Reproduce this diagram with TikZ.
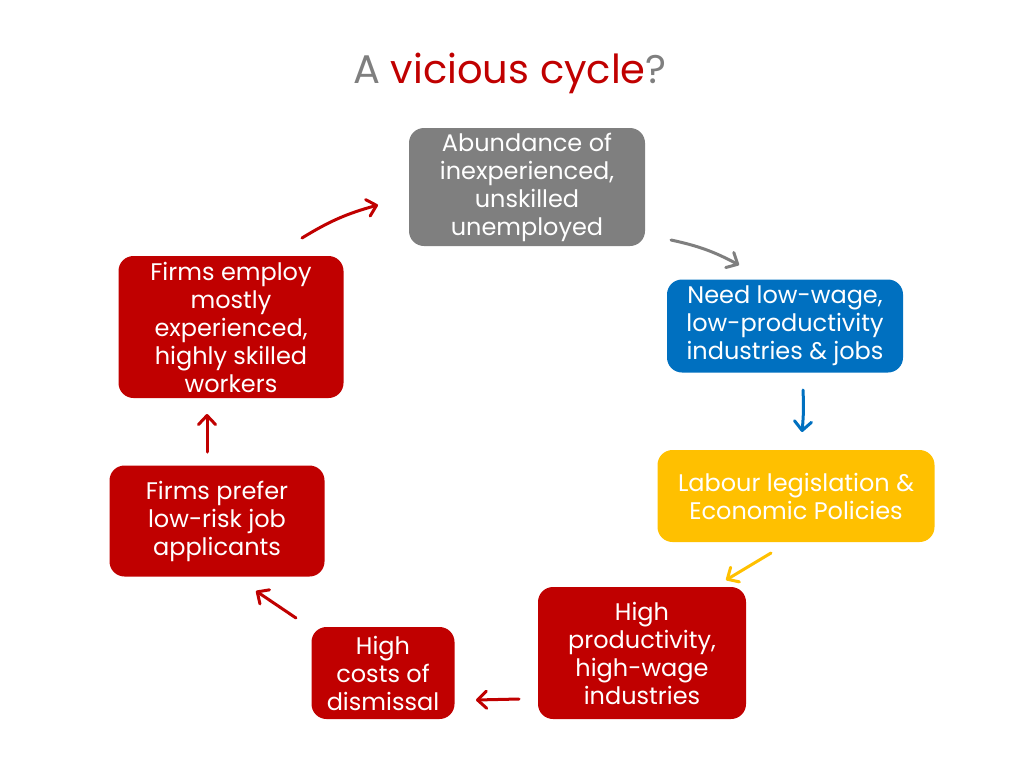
\documentclass[tikz,border=0pt]{standalone}
\usepackage{fontspec}
\setmainfont{Poppins}
\usetikzlibrary{arrows.meta, positioning}

\definecolor{cycred}{HTML}{C00000}
\definecolor{cycgray}{HTML}{7F7F7F}
\definecolor{cycblue}{HTML}{0070C0}
\definecolor{cycyellow}{HTML}{FFC000}

\tikzset{
    stage/.style={rounded corners=15pt, text=white, align=center,
        font=\fontsize{24}{28}\selectfont, inner sep=0pt},
    link/.style={line width=3pt, line cap=round,
        -{Straight Barb[length=9pt, width=17pt, line width=3pt, round]}}
}

\begin{document}
\begin{tikzpicture}[x=1pt, y=-1pt]
    \useasboundingbox (0, 0) rectangle (1024, 768);

    \node[font=\fontsize{40}{46}\selectfont, text=cycgray] (title) at (510, 73)
        {A \textcolor{cycred}{vicious cycle}?};

    \node[stage, fill=cycgray, minimum width=236pt, minimum height=118pt] (abund) at (527, 187)
        {Abundance of\\inexperienced,\\unskilled\\unemployed};
    \node[stage, fill=cycblue, minimum width=236pt, minimum height=93pt] (need) at (785, 326)
        {Need low-wage,\\low-productivity\\industries \& jobs};
    \node[stage, fill=cycyellow, minimum width=277pt, minimum height=92pt] (labour) at (796, 496)
        {Labour legislation \&\\Economic Policies};
    \node[stage, fill=cycred, minimum width=208pt, minimum height=132pt] (prod) at (642, 653)
        {High\\productivity,\\high-wage\\industries};
    \node[stage, fill=cycred, minimum width=143pt, minimum height=92pt] (costs) at (383, 673)
        {High\\costs of\\dismissal};
    \node[stage, fill=cycred, minimum width=215pt, minimum height=111pt] (prefer) at (217, 521)
        {Firms prefer\\low-risk job\\applicants};
    \node[stage, fill=cycred, minimum width=225pt, minimum height=142pt] (employ) at (231, 327)
        {Firms employ\\mostly\\experienced,\\highly skilled\\workers};

    % arrow ends
    \coordinate (e1) at (302, 238);
    \coordinate (e2) at (378, 205);
    \coordinate (g1) at (671, 240);
    \coordinate (g2) at (739, 265);
    \coordinate (b1) at (803, 390);
    \coordinate (b2) at (802, 432);
    \coordinate (y1) at (771, 553);
    \coordinate (y2) at (726, 580);
    \coordinate (p1) at (519, 699);
    \coordinate (p2) at (476, 700);
    \coordinate (c1) at (296, 618);
    \coordinate (c2) at (256, 591);
    \coordinate (f1) at (207, 452);
    \coordinate (f2) at (207, 414);

    \draw[link, cycred] (e1) to[bend left=8] (e2);
    \draw[link, cycgray] (g1) to[bend left=8] (g2);
    \draw[link, cycblue] (b1) to[bend left=4] (b2);
    \draw[link, cycyellow] (y1) -- (y2);
    \draw[link, cycred] (p1) -- (p2);
    \draw[link, cycred] (c1) -- (c2);
    \draw[link, cycred] (f1) -- (f2);
\end{tikzpicture}
\end{document}
